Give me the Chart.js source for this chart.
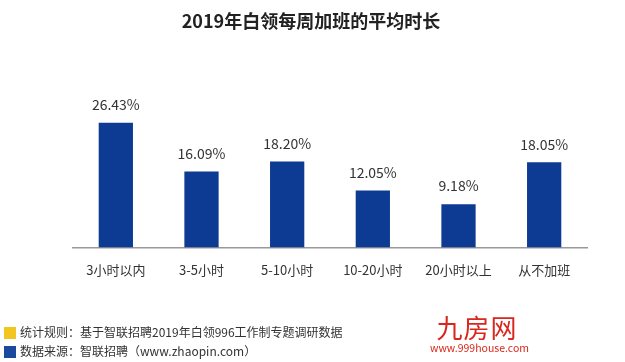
<!DOCTYPE html>
<html>
<head>
<meta charset="utf-8">
<script src="https://cdn.jsdelivr.net/npm/chart.js@4/dist/chart.umd.min.js"></script>
<style>
  body { margin: 0; background: #fff; font-family: "Noto Sans CJK SC", "Noto Sans", sans-serif; }
  #wrap { position: relative; width: 625px; height: 362px; overflow: hidden; }
  #title { position: absolute; left: 161px; width: 300px; top: 9px; text-align: center; font-size: 18px; font-weight: bold; color: #222; line-height: 22px; white-space: nowrap; }
  .note { position: absolute; left: 4px; font-size: 12px; color: #333; line-height: 14px; white-space: nowrap; }
  .note span { display: inline-block; width: 12px; height: 12px; vertical-align: -2px; margin-right: 4px; }
  #logo { position: absolute; left: 430px; top: 312px; color: #d8271c; text-align: center; width: 94px; white-space: nowrap; }
  #logo .big { font-size: 26px; line-height: 30px; letter-spacing: 1px; }
  #logo .small { font-size: 10.5px; line-height: 12px; }
</style>
</head>
<body>
<div id="wrap">
  <canvas id="myChart" width="625" height="362"></canvas>
  <div id="title">2019年白领每周加班的平均时长</div>
  <div class="note" style="top:325px"><span style="background:#f3c520"></span>统计规则：基于智联招聘2019年白领996工作制专题调研数据</div>
  <div class="note" style="top:344px"><span style="background:#1b4a9c"></span>数据来源：智联招聘（www.zhaopin.com）</div>
  <div id="logo"><div class="big">九房网</div><div class="small">www.999house.com</div></div>
</div>
<script>
var categories = ['3小时以内', '3-5小时', '5-10小时', '10-20小时', '20小时以上', '从不加班']
var shares = [26.43, 16.09, 18.20, 12.05, 9.18, 18.05]

var fontFamily = '"Noto Sans CJK SC", "Noto Sans", sans-serif'

// value labels above each bar
var valueLabels = {
  id: 'valueLabels',
  afterDatasetsDraw(chart) {
    var ctx = chart.ctx
    var meta = chart.getDatasetMeta(0)
    ctx.save()
    ctx.font = '14px ' + fontFamily
    ctx.fillStyle = '#333'
    ctx.textAlign = 'center'
    ctx.textBaseline = 'middle'
    meta.data.forEach(function (bar, i) {
      ctx.fillText(shares[i].toFixed(2) + '%', bar.x, bar.y - 18)
    })
    ctx.restore()
  }
}

var ctx = document.getElementById('myChart')
var myChart = new Chart(ctx, {
  type: 'bar',
  data: {
    labels: categories,
    datasets: [{
      data: shares,
      backgroundColor: '#0d3b94',
      barPercentage: 0.8,
      categoryPercentage: 0.5
    }]
  },
  options: {
    responsive: false,
    animation: false,
    layout: { padding: { left: 73, right: 38, bottom: 69, top: 106 } },
    plugins: {
      legend: { display: false },
      tooltip: { enabled: false }
    },
    scales: {
      x: {
        grid: { display: false, drawTicks: false },
        border: { display: true, color: '#999', width: 1.5 },
        ticks: { color: '#333', padding: 15, font: { family: fontFamily, size: 13 } }
      },
      y: {
        display: false,
        min: 0,
        max: 30
      }
    }
  },
  plugins: [valueLabels]
})
</script>
</body>
</html>
